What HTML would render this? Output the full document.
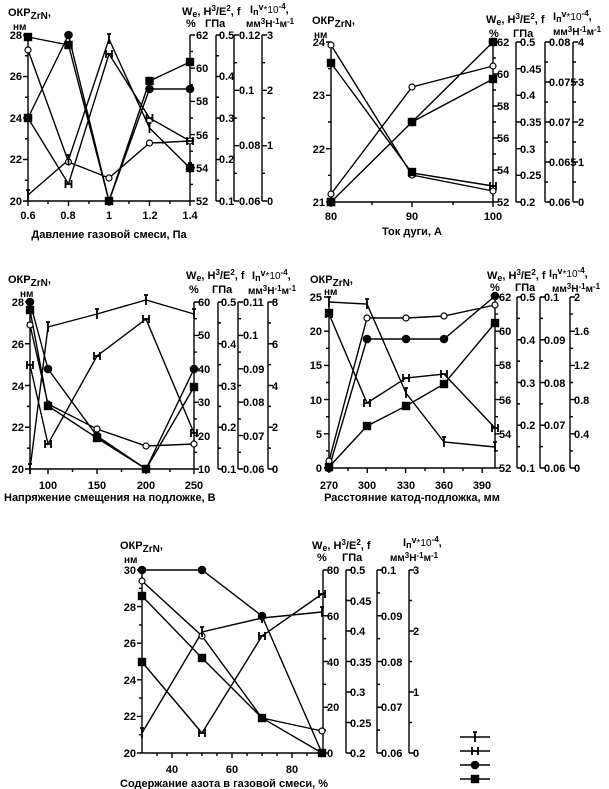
<!DOCTYPE html>
<html><head><meta charset="utf-8"><style>
body{margin:0;background:#fff;width:609px;height:789px;overflow:hidden}
svg{display:block}
text{font-family:"Liberation Sans",Arial,sans-serif;font-weight:bold;font-size:11px;fill:#000}
.e{text-anchor:end}.m{text-anchor:middle}.s{font-size:10px}
</style></head><body>
<svg id="c" width="609" height="789" viewBox="0 0 609 789" xmlns="http://www.w3.org/2000/svg">
<g id="g" stroke="#000" stroke-width="1.4" fill="none"></g>
<!-- Panel 1 -->
<text x="8" y="16">ОКР<tspan font-size="10" dy="3">ZrN</tspan><tspan dy="-3">,</tspan></text>
<text x="13" y="30" class="s">нм</text>
<g class="e"><text x="22" y="39">28</text><text x="22" y="80">26</text><text x="22" y="122">24</text><text x="22" y="163">22</text><text x="22" y="205">20</text></g>
<g class="m"><text x="28" y="219">0.6</text><text x="68" y="219">0.8</text><text x="109" y="219">1</text><text x="150" y="219">1.2</text><text x="190" y="219">1.4</text></g>
<text x="109" y="238" class="m">Давление газовой смеси, Па</text>
<text x="182" y="15">W<tspan font-size="9" dy="2">e</tspan><tspan dy="-2">, H</tspan><tspan font-size="8" dy="-4">3</tspan><tspan dy="4">/E</tspan><tspan font-size="8" dy="-4">2</tspan><tspan dy="4">,  f</tspan></text>
<text x="186" y="27">%</text><text x="205" y="27">ГПа</text>
<text x="250" y="13">I<tspan font-size="9" dy="2">п</tspan><tspan font-size="9" dy="-5">v</tspan><tspan font-size="10" font-weight="normal" dy="3">*10</tspan><tspan font-size="8" dy="-4">-4</tspan><tspan dy="4">,</tspan></text>
<text x="246" y="27" class="s">мм<tspan font-size="8" dy="-3">3</tspan><tspan dy="3">Н</tspan><tspan font-size="8" dy="-3">-1</tspan><tspan dy="3">м</tspan><tspan font-size="8" dy="-3">-1</tspan></text>
<g><text x="196" y="39">62</text><text x="196" y="72">60</text><text x="196" y="105">58</text><text x="196" y="139">56</text><text x="196" y="172">54</text><text x="196" y="205">52</text></g>
<g><text x="219" y="39">0.5</text><text x="219" y="80">0.4</text><text x="219" y="122">0.3</text><text x="219" y="163">0.2</text><text x="219" y="205">0.1</text></g>
<g class="s"><text x="239" y="39">0.12</text><text x="239" y="94">0.1</text><text x="239" y="149">0.08</text><text x="239" y="205">0.06</text></g>
<g><text x="267" y="39">3</text><text x="267" y="94">2</text><text x="267" y="149">1</text><text x="267" y="205">0</text></g>
<!-- Panel 2 -->
<text x="312" y="24">ОКР<tspan font-size="10" dy="3">ZrN</tspan><tspan dy="-3">,</tspan></text>
<text x="314" y="38" class="s">нм</text>
<g class="e"><text x="325" y="46">24</text><text x="325" y="99">23</text><text x="325" y="153">22</text><text x="325" y="206">21</text></g>
<g class="m"><text x="331" y="220">80</text><text x="412" y="220">90</text><text x="493" y="220">100</text></g>
<text x="412" y="235" class="m">Ток дуги, А</text>
<text x="486" y="23">W<tspan font-size="9" dy="2">e</tspan><tspan dy="-2">, H</tspan><tspan font-size="8" dy="-4">3</tspan><tspan dy="4">/E</tspan><tspan font-size="8" dy="-4">2</tspan><tspan dy="4">,  f</tspan></text>
<text x="489" y="37">%</text><text x="513" y="37">ГПа</text>
<text x="553" y="20">I<tspan font-size="9" dy="2">п</tspan><tspan font-size="9" dy="-5">v</tspan><tspan font-size="10" font-weight="normal" dy="3">*10</tspan><tspan font-size="8" dy="-4">-4</tspan><tspan dy="4">,</tspan></text>
<text x="553" y="35" class="s">мм<tspan font-size="8" dy="-3">3</tspan><tspan dy="3">Н</tspan><tspan font-size="8" dy="-3">-1</tspan><tspan dy="3">м</tspan><tspan font-size="8" dy="-3">-1</tspan></text>
<g><text x="497" y="46">62</text><text x="497" y="78">60</text><text x="497" y="110">58</text><text x="497" y="142">56</text><text x="497" y="174">54</text><text x="497" y="206">52</text></g>
<g><text x="520" y="46">0.5</text><text x="520" y="73">0.45</text><text x="520" y="99">0.4</text><text x="520" y="126">0.35</text><text x="520" y="153">0.3</text><text x="520" y="179">0.25</text><text x="520" y="206">0.2</text></g>
<g class="s"><text x="549" y="46">0.08</text><text x="549" y="86">0.075</text><text x="549" y="126">0.07</text><text x="549" y="166">0.065</text><text x="549" y="206">0.06</text></g>
<g><text x="578" y="46">4</text><text x="578" y="86">3</text><text x="578" y="126">2</text><text x="578" y="166">1</text><text x="578" y="206">0</text></g>
<!-- Panel 3 -->
<text x="8" y="283">ОКР<tspan font-size="10" dy="3">ZrN</tspan><tspan dy="-3">,</tspan></text>
<text x="20" y="297" class="s">нм</text>
<g class="e"><text x="24" y="306">28</text><text x="24" y="348">26</text><text x="24" y="390">24</text><text x="24" y="431">22</text><text x="24" y="473">20</text></g>
<g class="m"><text x="48" y="489">100</text><text x="97" y="489">150</text><text x="146" y="489">200</text><text x="194" y="489">250</text></g>
<text x="4" y="501">Напряжение смещения на подложке, В</text>
<text x="186" y="279">W<tspan font-size="9" dy="2">e</tspan><tspan dy="-2">, H</tspan><tspan font-size="8" dy="-4">3</tspan><tspan dy="4">/E</tspan><tspan font-size="8" dy="-4">2</tspan><tspan dy="4">,  f</tspan></text>
<text x="189" y="293">%</text><text x="212" y="293">ГПа</text>
<text x="252" y="279">I<tspan font-size="9" dy="2">п</tspan><tspan font-size="9" dy="-5">v</tspan><tspan font-size="10" font-weight="normal" dy="3">*10</tspan><tspan font-size="8" dy="-4">-4</tspan><tspan dy="4">,</tspan></text>
<text x="248" y="294" class="s">мм<tspan font-size="8" dy="-3">3</tspan><tspan dy="3">Н</tspan><tspan font-size="8" dy="-3">-1</tspan><tspan dy="3">м</tspan><tspan font-size="8" dy="-3">-1</tspan></text>
<g><text x="198" y="306">60</text><text x="198" y="339">50</text><text x="198" y="373">40</text><text x="198" y="406">30</text><text x="198" y="440">20</text><text x="198" y="473">10</text></g>
<g><text x="221" y="306">0.5</text><text x="221" y="348">0.4</text><text x="221" y="390">0.3</text><text x="221" y="431">0.2</text><text x="221" y="473">0.1</text></g>
<g class="s"><text x="243" y="306">0.11</text><text x="243" y="339">0.1</text><text x="243" y="373">0.09</text><text x="243" y="406">0.08</text><text x="243" y="440">0.07</text><text x="243" y="473">0.06</text></g>
<g><text x="272" y="306">8</text><text x="272" y="348">6</text><text x="272" y="390">4</text><text x="272" y="431">2</text><text x="272" y="473">0</text></g>
<!-- Panel 4 -->
<text x="310" y="283">ОКР<tspan font-size="10" dy="3">ZrN</tspan><tspan dy="-3">,</tspan></text>
<text x="324" y="295" class="s">нм</text>
<g class="e"><text x="322" y="301">25</text><text x="322" y="335">20</text><text x="322" y="369">15</text><text x="322" y="404">10</text><text x="322" y="438">5</text><text x="322" y="472">0</text></g>
<g class="m"><text x="329" y="489">270</text><text x="367" y="489">300</text><text x="406" y="489">330</text><text x="444" y="489">360</text><text x="482" y="489">390</text></g>
<text x="412" y="501" class="m">Расстояние катод-подложка, мм</text>
<text x="487" y="279">W<tspan font-size="9" dy="2">e</tspan><tspan dy="-2">, H</tspan><tspan font-size="8" dy="-4">3</tspan><tspan dy="4">/E</tspan><tspan font-size="8" dy="-4">2</tspan><tspan dy="4">, f</tspan></text>
<text x="490" y="291">%</text><text x="515" y="291">ГПа</text>
<text x="549" y="277">I<tspan font-size="9" dy="2">п</tspan><tspan font-size="9" dy="-5">v</tspan><tspan font-size="10" font-weight="normal" dy="3">*10</tspan><tspan font-size="8" dy="-4">-4</tspan><tspan dy="4">,</tspan></text>
<text x="552" y="292" class="s">мм<tspan font-size="8" dy="-3">3</tspan><tspan dy="3">Н</tspan><tspan font-size="8" dy="-3">-1</tspan><tspan dy="3">м</tspan><tspan font-size="8" dy="-3">-1</tspan></text>
<g><text x="499" y="301">62</text><text x="499" y="335">60</text><text x="499" y="369">58</text><text x="499" y="404">56</text><text x="499" y="438">54</text><text x="499" y="472">52</text></g>
<g><text x="520" y="301">0.5</text><text x="520" y="344">0.4</text><text x="520" y="387">0.3</text><text x="520" y="429">0.2</text><text x="520" y="472">0.1</text></g>
<g class="s"><text x="544" y="301">0.1</text><text x="544" y="344">0.09</text><text x="544" y="387">0.08</text><text x="544" y="429">0.07</text><text x="544" y="472">0.06</text></g>
<g><text x="574" y="301">2</text><text x="574" y="335">1.6</text><text x="574" y="369">1.2</text><text x="574" y="404">0.8</text><text x="574" y="438">0.4</text><text x="574" y="472">0</text></g>
<!-- Panel 5 -->
<text x="120" y="549">ОКР<tspan font-size="10" dy="3">ZrN</tspan><tspan dy="-3">,</tspan></text>
<text x="124" y="563" class="s">нм</text>
<g class="e"><text x="136" y="574">30</text><text x="136" y="611">28</text><text x="136" y="647">26</text><text x="136" y="684">24</text><text x="136" y="720">22</text><text x="136" y="757">20</text></g>
<g class="m"><text x="172" y="773">40</text><text x="232" y="773">60</text><text x="292" y="773">80</text></g>
<text x="120" y="787">Содержание азота в газовой смеси, %</text>
<text x="312" y="549">W<tspan font-size="9" dy="2">e</tspan><tspan dy="-2">,  H</tspan><tspan font-size="8" dy="-4">3</tspan><tspan dy="4">/E</tspan><tspan font-size="8" dy="-4">2</tspan><tspan dy="4">,   f</tspan></text>
<text x="317" y="561">%</text><text x="342" y="561">ГПа</text>
<text x="403" y="546">I<tspan font-size="9" dy="2">п</tspan><tspan font-size="9" dy="-5">v</tspan><tspan font-size="10" font-weight="normal" dy="3">*10</tspan><tspan font-size="8" dy="-4">-4</tspan><tspan dy="4">,</tspan></text>
<text x="390" y="561" class="s">мм<tspan font-size="8" dy="-3">3</tspan><tspan dy="3">Н</tspan><tspan font-size="8" dy="-3">-1</tspan><tspan dy="3">м</tspan><tspan font-size="8" dy="-3">-1</tspan></text>
<g><text x="327" y="574">80</text><text x="327" y="620">60</text><text x="327" y="666">40</text><text x="327" y="711">20</text><text x="327" y="757">0</text></g>
<g><text x="350" y="574">0.5</text><text x="350" y="605">0.45</text><text x="350" y="635">0.4</text><text x="350" y="666">0.35</text><text x="350" y="696">0.3</text><text x="350" y="727">0.25</text><text x="350" y="757">0.2</text></g>
<g class="s"><text x="381" y="574">0.1</text><text x="381" y="620">0.09</text><text x="381" y="666">0.08</text><text x="381" y="711">0.07</text><text x="381" y="757">0.06</text></g>
<g><text x="413" y="574">3</text><text x="413" y="635">2</text><text x="413" y="696">1</text><text x="413" y="757">0</text></g>
</svg>
<script>
var g=document.getElementById('g'),d='',mk=[];
function L(a){d+=a;}
function V(x,y0,y1,n,m,dir){L('M'+x+','+y0+'V'+y1);var st=(y1-y0)/(n*m);for(var i=0;i<=n*m;i++){var y=y0+i*st,len=(i%m==0)?5:3;L('M'+x+','+y+'h'+(dir*len));}}
function H(y,x0,x1,maj,min){L('M'+x0+','+y+'H'+x1);maj.forEach(function(x){L('M'+x+','+y+'v5');});min.forEach(function(x){L('M'+x+','+y+'v3');});}
function S(xs,ys,t){var p='M'+xs[0]+','+ys[0];for(var i=1;i<xs.length;i++)p+='L'+xs[i]+','+ys[i];L(p);for(var i=0;i<xs.length;i++)mk.push([xs[i],ys[i],t]);}
// panel1
V(28,35,201,4,2,-1);H(201,28,190,[28,68.5,109,149.5,190],[48,89,129,170]);
V(190,35,201,5,2,1);V(216,35,201,4,2,1);V(234,35,201,3,2,1);V(262,35,201,3,2,1);
var x1=[28,68.5,109,149.5,190];
S(x1,[37,45,201,81,62],'s');S(x1,[118,35,201,89,89],'c');S(x1,[50,162,178,143,141],'o');S(x1,[118,184,54,118,141],'H');S(x1,[195,160,39,128,168],'I');mk.push([190,168,'s'],[28,118,'s']);
// panel2
V(331,42,202,3,2,-1);H(202,331,493,[331,412,493],[372,453]);
V(493,42,202,5,2,1);V(516,42,202,6,1,1);V(545,42,202,4,2,1);V(573,42,202,4,2,1);
var x2=[331,412,493];
S(x2,[45,175,191],'o');S(x2,[63,173,186],'H');S(x2,[194,87,66],'o');S(x2,[202,122,42],'c');S(x2,[202,122,79],'s');mk.push([331,63,'s'],[331,202,'s'],[412,172,'s'],[493,42,'s']);
// panel3
V(30,302,469,4,2,-1);H(469,30,194,[48,97,146,194],[72.5,121.5,170]);
V(194,302,469,5,2,1);V(218,302,469,4,2,1);V(238,302,469,5,2,1);V(268,302,469,4,2,1);
var x3=[30,48,97,146,194];
S(x3,[469,327,314,300,314],'I');S(x3,[365,444,356,319,433],'H');S(x3,[302,369,436,469,369],'c');S(x3,[325,404,429,446,444],'o');S(x3,[310,406,438,469,387],'s');
// panel4
V(329,297,468,5,2,-1);H(468,329,495,[329,367.3,405.6,443.9,482.2],[348,386,425,463]);
V(495,297,468,5,2,1);V(517,297,468,4,2,1);V(540,297,468,4,2,1);V(570,297,468,5,2,1);
var x4=[329,367,406,444,495];
S(x4,[302,304,393,442,447],'I');S(x4,[314,403,378,374,428],'H');S(x4,[461,318,318,316,305],'o');S(x4,[468,339,339,339,296],'c');S(x4,[467,426,406,384,323],'s');mk.push([329,313,'s']);
// panel5
V(142,570,753,5,2,-1);H(753,142,323,[172,232,292],[157,187,202,217,247,262,277,307,322]);
V(323,570,753,4,2,1);V(346,570,753,6,1,1);V(377,570,753,4,2,1);V(409,570,753,3,2,1);
var x5=[142,202,262,322];
S(x5,[570,570,616,753],'c');S(x5,[581,636,718,731],'o');S(x5,[596,658,718,753],'s');S(x5,[662,733,636,594],'H');S(x5,[733,632,618,612],'I');mk.push([142,662,'s']);
// legend
[[737,'I'],[751,'H'],[765,'c'],[779,'s']].forEach(function(a){L('M460,'+a[0]+'h30');mk.push([475,a[0],a[1]]);});
var h='<path d="'+d+'"/>';
mk.forEach(function(m){var x=m[0],y=m[1];
 if(m[2]=='s')h+='<rect x="'+(x-3.5)+'" y="'+(y-3.5)+'" width="7" height="7" fill="#000"/>';
 else if(m[2]=='c')h+='<circle cx="'+x+'" cy="'+y+'" r="3.6" fill="#000"/>';
 else if(m[2]=='o')h+='<circle cx="'+x+'" cy="'+y+'" r="3" fill="#fff" stroke-width="1.2"/>';
 else if(m[2]=='H')h+='<path stroke-width="1.8" d="M'+(x-3)+','+(y-4)+'v8M'+(x+3)+','+(y-4)+'v8M'+(x-3)+','+y+'h6"/>';
 else h+='<path stroke-width="1.8" d="M'+x+','+(y-5)+'v10M'+(x-2)+','+(y-5)+'h4"/>';});
g.innerHTML=h;
</script>
</body></html>
